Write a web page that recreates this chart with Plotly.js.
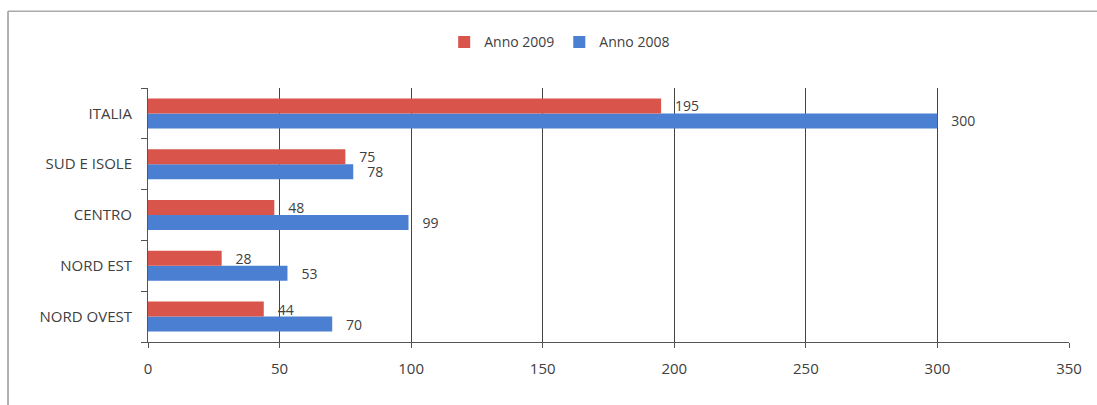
<!DOCTYPE html>
<html>
<head>
<meta charset="utf-8">
<script src="https://cdn.plot.ly/plotly-3.0.1.min.js"></script>
<style>
html,body{margin:0;padding:0;background:#fff;}
#chart{width:1097px;height:405px;}
</style>
</head>
<body>
<div id="chart"></div>
<script>
const categories = ["NORD OVEST", "NORD EST", "CENTRO", "SUD E ISOLE", "ITALIA"];
const anno2009 = [44, 28, 48, 75, 195];
const anno2008 = [70, 53, 99, 78, 300];
const xTicks = [0, 50, 100, 150, 200, 250, 300, 350];

const red = "#d9554b";
const blue = "#4a7fd2";
const txt = "#404040";
const fontFam = "'Open Sans', 'Liberation Sans', sans-serif";

const traces = [
  {
    type: "bar", orientation: "h", name: "Anno 2008",
    y: categories, x: anno2008,
    marker: {color: blue},
    text: anno2008, texttemplate: "\u00a0\u00a0\u00a0%{x}", textposition: "outside",
    constraintext: "none",
    textfont: {color: txt, size: 14, family: fontFam},
    cliponaxis: false
  },
  {
    type: "bar", orientation: "h", name: "Anno 2009",
    y: categories, x: anno2009,
    marker: {color: red},
    text: anno2009, texttemplate: "\u00a0\u00a0\u00a0%{x}", textposition: "outside",
    constraintext: "none",
    textfont: {color: txt, size: 14, family: fontFam},
    cliponaxis: false
  }
];

const layout = {
  width: 1097, height: 405,
  margin: {l: 148, r: 28, t: 88, b: 63},
  paper_bgcolor: "#ffffff", plot_bgcolor: "#ffffff",
  font: {family: fontFam, color: txt, size: 14},
  barmode: "group", bargap: 0.41, bargroupgap: 0,
  showlegend: true,
  legend: {orientation: "h", x: 0.447, xanchor: "center", y: 1.18, yanchor: "middle",
           traceorder: "reversed", font: {size: 14, color: txt}, itemwidth: 30,
           tracegroupgap: 0},
  xaxis: {
    range: [0, 350], tickvals: xTicks, ticktext: xTicks.map(String),
    showgrid: true, gridcolor: "#444", gridwidth: 1,
    zeroline: false, showline: true, linecolor: "#555", linewidth: 1,
    ticks: "outside", ticklen: 5, tickcolor: "#555",
    ticklabelstandoff: 8, tickfont: {size: 15, color: txt}, fixedrange: true
  },
  yaxis: {
    categoryorder: "array", categoryarray: categories,
    showline: true, linecolor: "#555", linewidth: 1,
    ticks: "outside", tickson: "boundaries", ticklen: 6, tickcolor: "#555",
    showgrid: false, ticklabelstandoff: 12, tickfont: {size: 15, color: txt}, fixedrange: true
  },
  shapes: [
    {type: "line", xref: "paper", yref: "paper", x0: -0.152, x1: 1.05, y0: 1.302, y1: 1.302,
     line: {color: "#aaa", width: 1.5}},
    {type: "line", xref: "paper", yref: "paper", x0: -0.152, x1: -0.152, y0: 1.302, y1: -0.3,
     line: {color: "#999", width: 1.5}}
  ]
};

Plotly.newPlot("chart", traces, layout, {displayModeBar: false, staticPlot: true});
</script>
</body>
</html>
